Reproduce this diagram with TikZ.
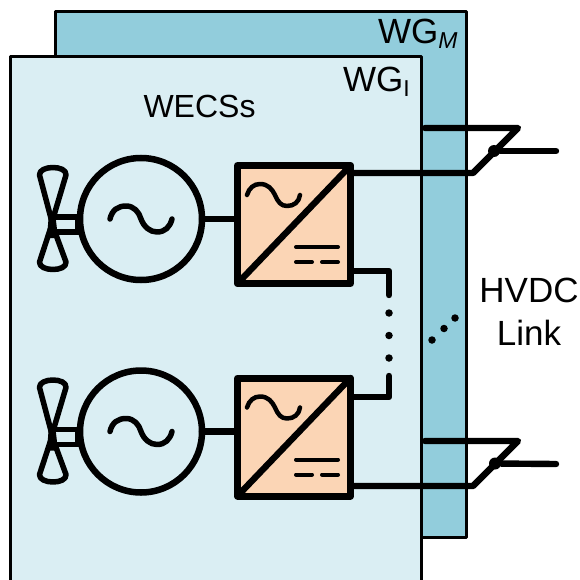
\documentclass[tikz,border=0pt]{standalone}
\usepackage{fontspec}
\setmainfont{Liberation Sans}
\definecolor{teal1}{HTML}{92CDDC}
\definecolor{pale}{HTML}{DAEEF3}
\definecolor{peach}{HTML}{FBD5B5}
\tikzset{
  panel/.style={draw=black,line width=2.9pt,line join=round},
  wire/.style={draw=black,line width=6.4pt,line cap=round,line join=round},
  thin wire/.style={draw=black,line width=4.5pt,line cap=round,line join=round},
  conv/.style={draw=black,fill=peach,line width=7pt,line join=round,minimum width=113pt,minimum height=118pt,inner sep=0pt,outer sep=0pt},
  gen/.style={circle,draw=black,line width=6.5pt,minimum size=122pt,inner sep=0pt,outer sep=0pt},
  lbl/.style={inner sep=0pt,font=\fontsize{35}{43}\selectfont,text=black},
  dot/.style={circle,fill=black,inner sep=0pt,minimum size=7.5pt},
  junction/.style={circle,fill=black,inner sep=0pt,minimum size=12pt}
}
\newcommand{\wecs}[3]{%
  \begin{scope}[yshift=-#1pt]
    \node[gen] (#2) at (141,219) {};
    \node[conv] (#3) at (294,224.5) {};
    \draw[wire] (#2.east) -- (#3.west |- #2.east);
    \draw[wire,line width=5.5pt] (110,219) .. controls (112,210) and (118,206) .. (126,206)
       .. controls (134,206) and (139,212) .. (141,219)
       .. controls (144,227) and (150,232) .. (157,232)
       .. controls (165,232) and (170,227) .. (172,219);
    \draw[wire,line width=5.5pt] (52,222) -- (39.5,175) .. controls (39,165) and (67,165) .. (66,175) -- (52,222)
       (52,224) -- (39.5,262) .. controls (39,272) and (67,272) .. (66,262) -- (52,224);
    \draw[wire,line width=5.5pt] (54,217) -- (80,217) (54,232) -- (80,232);
    \fill[black] (49,212) -- (55,212) -- (58,238) -- (47,238) -- cycle;
    \draw[line width=7pt,black] (78,215) -- (78,234);
    \draw[wire] (#3.south west) -- (#3.north east);
    \draw[thin wire] (247,195) .. controls (249,188) and (254,184) .. (260,184)
       .. controls (268,184) and (272,189) .. (275,195)
       .. controls (278,202) and (281,206) .. (287,206)
       .. controls (294,206) and (299,202) .. (300,195);
    \draw[thin wire,line width=4pt] (296,247) -- (338,247) (296,262) -- (312,262) (322,262) -- (338,262);
  \end{scope}}
\begin{document}
\begin{tikzpicture}[x=1pt,y=-1pt]
  \useasboundingbox (0,0) rectangle (579,580);
  \fill[white] (0,0) rectangle (579,580);
  \path[panel,fill=teal1] (55.5,11.5) rectangle (466.5,537.5);
  \path[panel,fill=pale] (10.5,56.5) rectangle (421.5,590);
  \node[lbl,anchor=base west] (wgm) at (378,44) {WG\raisebox{-5pt}{\fontsize{23}{23}\selectfont\itshape M}};
  \node[lbl,anchor=base west] (wgi) at (343,92) {WG\raisebox{-5pt}{\fontsize{23}{23}\selectfont I}};
  \node[lbl,anchor=base,font=\fontsize{32}{36}\selectfont] (wecs) at (199.5,118) {WECSs};
  \node[lbl,align=center,anchor=center] (hvdc) at (529,312) {HVDC\\Link};
  \wecs{0}{g1}{c1}
  \wecs{212.5}{g2}{c2}
  % upper HVDC link
  \coordinate (a1) at (425,128);
  \coordinate (a2) at (518,128);
  \coordinate (a3) at (473,173);
  \node[junction] (j1) at (494,151) {};
  \coordinate (e1) at (556,151);
  \draw[wire] (c1.east |- a3) -- (a3) -- (a2) -- (a1);
  \draw[wire] (j1) -- (e1);
  % lower HVDC link
  \coordinate (b1) at (425,441);
  \coordinate (b2) at (518,441);
  \coordinate (b3) at (473,486);
  \node[junction] (j2) at (495,463.5) {};
  \coordinate (e2) at (556,464);
  \draw[wire] (c2.east |- b3) -- (b3) -- (b2) -- (b1);
  \draw[wire] (j2) -- (e2);
  % series string
  \coordinate (s1) at (389,271);
  \coordinate (s2) at (389,295);
  \coordinate (s3) at (389,397);
  \coordinate (s4) at (389,376);
  \draw[wire] (c1.east |- s1) -- (s1) -- (s2);
  \draw[wire] (c2.east |- s3) -- (s3) -- (s4);
  \node[dot] (d1) at (389,313) {};
  \node[dot] (d2) at (389,335.5) {};
  \node[dot] (d3) at (389,358) {};
  \node[dot] (d4) at (432,340) {};
  \node[dot] (d5) at (444,328.5) {};
  \node[dot] (d6) at (455,318) {};
\end{tikzpicture}
\end{document}
